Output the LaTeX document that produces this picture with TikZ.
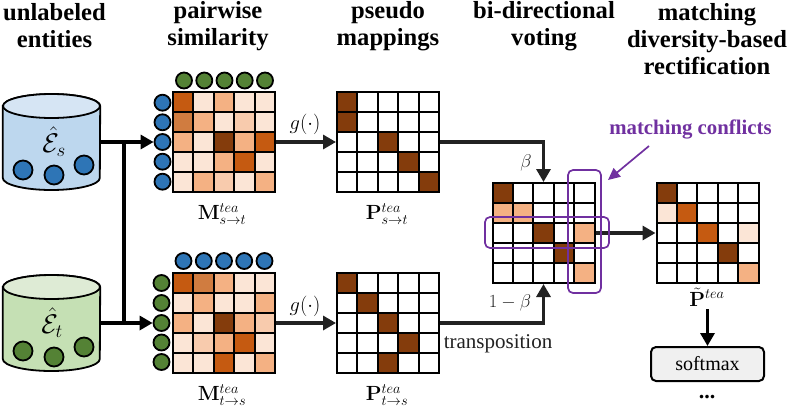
\documentclass[tikz,border=0pt]{standalone}
\usepackage{fix-cm}
\usepackage[no-math]{fontspec}
\setmainfont{Liberation Serif}
\usetikzlibrary{arrows.meta,calc}
\definecolor{cD}{HTML}{843C0C}
\definecolor{cO}{HTML}{C55A11}
\definecolor{cM}{HTML}{D07C40}
\definecolor{cL}{HTML}{F4B183}
\definecolor{cS}{HTML}{F8CBAD}
\definecolor{cF}{HTML}{FBE5D6}
\definecolor{cW}{HTML}{FFFFFF}
\definecolor{blueE}{HTML}{2E75B6}
\definecolor{greenE}{HTML}{548235}
\definecolor{blueB}{HTML}{BDD7EE}
\definecolor{blueT}{HTML}{D6E5F4}
\definecolor{greenB}{HTML}{C5E0B4}
\definecolor{greenT}{HTML}{DEEBD5}
\definecolor{purpleC}{HTML}{7030A0}
\definecolor{lineC}{HTML}{222222}
\tikzset{
  title/.style={font=\fontsize{24.6}{27}\selectfont\bfseries,align=center,inner sep=0pt,text=black},
  mathlabel/.style={font=\fontsize{20.5}{24}\selectfont,inner sep=0pt},
  smalllabel/.style={font=\fontsize{18.5}{22}\selectfont,inner sep=0pt,text=lineC},
  frame/.style={draw=black,line width=2pt,minimum width=102pt,minimum height=100pt,inner sep=0pt},
  ent/.style={circle,draw=black,line width=1.8pt,minimum size=#1,inner sep=0pt},
  ent/.default=16pt,
  flow/.style={line width=3.2pt,lineC,-{Triangle[length=13pt,width=14pt]}},
  feed/.style={line width=3.2pt,black,-{Triangle[length=13pt,width=14pt]}},
  feedline/.style={line width=3.2pt,black},
  conflict/.style={draw=purpleC,line width=1.7pt,rounded corners=5pt},
  cylbox/.style={minimum width=97pt,minimum height=96pt,inner sep=0pt},
}
% \grid{name}{cx}{cy}{row/col/colour,...}
\newcommand{\grid}[4]{%
  \foreach \r/\c/\k in {#4}{%
    \fill[\k] ({#2-51+(\c-1)*20.4},{#3-50+(\r-1)*20}) rectangle ++(20.4,20);
  }
  \node[frame] (#1) at (#2,#3) {};
  \foreach \i in {1,2,3,4}{%
    \draw[black,line width=2pt] ({#2-51+\i*20.4},{#3-50}) -- ++(0,100);
    \draw[black,line width=2pt] ({#2-51},{#3-50+\i*20}) -- ++(102,0);
  }
}
% \cyl{name}{cx}{cy}{body}{top}
\newcommand{\cyl}[5]{%
  \node[cylbox] (#1) at (#2,#3) {};
  \draw[line width=1.8pt,fill=#4] (#1.west |- 0,{#3-36}) -- (#1.west |- 0,{#3+36})
    arc[start angle=180,end angle=360,x radius=48.5pt,y radius=12pt]
    -- (#1.east |- 0,{#3-36})
    arc[start angle=0,end angle=180,x radius=48.5pt,y radius=12pt] -- cycle;
  \draw[line width=1.8pt,fill=#5] (#2,{#3-36}) ellipse[x radius=48.5pt,y radius=12pt];
}
\begin{document}
\begin{tikzpicture}[x=1pt,y=-1pt]
\useasboundingbox (0,0) rectangle (789,408);
% titles
\node[title] (t1) at (54.5,26) {unlabeled\\entities};
\node[title] (t2) at (218,26) {pairwise\\similarity};
\node[title] (t3) at (388,26) {pseudo\\mappings};
\node[title] (t4) at (544,26) {bi-directional\\voting};
\node[title] (t5) at (707,39) {matching\\diversity-based\\rectification};
% cylinders
\cyl{Cs}{51.5}{142}{blueB}{blueT}
\cyl{Ct}{51.5}{323}{greenB}{greenT}
\node[font=\fontsize{27}{30}\selectfont,inner sep=0pt] (Es) at (54,141.5) {$\hat{\mathcal{E}}_s$};
\node[font=\fontsize{27}{30}\selectfont,inner sep=0pt] (Et) at (52,322.5) {$\hat{\mathcal{E}}_t$};
\foreach \n/\x/\y in {a/23/170,b/54/175,c/84/165}{\node[ent=19pt,fill=blueE] (Cs\n) at (\x,\y) {};}
\foreach \n/\x/\y in {a/23/351,b/54/357,c/84/347}{\node[ent=19pt,fill=greenE] (Ct\n) at (\x,\y) {};}
% grids
\grid{Ms}{224}{142}{1/1/cO,1/2/cF,1/3/cL,1/4/cF,1/5/cF,2/1/cM,2/2/cL,2/3/cF,2/4/cS,2/5/cF,3/1/cL,3/2/cF,3/3/cD,3/4/cL,3/5/cO,4/1/cF,4/2/cF,4/3/cL,4/4/cO,4/5/cF,5/1/cF,5/2/cL,5/3/cS,5/4/cF,5/5/cL}
\grid{Mt}{224}{323}{1/1/cO,1/2/cM,1/3/cL,1/4/cF,1/5/cF,2/1/cF,2/2/cL,2/3/cF,2/4/cF,2/5/cL,3/1/cL,3/2/cF,3/3/cD,3/4/cL,3/5/cS,4/1/cF,4/2/cS,4/3/cL,4/4/cO,4/5/cF,5/1/cF,5/2/cF,5/3/cO,5/4/cF,5/5/cL}
\grid{Ps}{388}{142}{1/1/cD,2/1/cD,3/3/cD,4/4/cD,5/5/cD}
\grid{Pt}{388}{323}{1/1/cD,2/2/cD,3/3/cD,4/4/cD,5/3/cD}
\grid{V}{543.5}{233}{1/1/cD,2/1/cL,2/2/cL,3/3/cD,3/5/cL,4/4/cD,5/5/cL}
\grid{R}{707.5}{233}{1/1/cD,2/1/cF,2/2/cO,3/3/cO,3/5/cF,4/4/cD,5/5/cL}
% entity dots
\foreach \i/\y in {1/102.7,2/122.3,3/142,4/161.7,5/181.7}{\node[ent,fill=blueE] (sr\i) at (162.5,\y) {};}
\foreach \i/\x in {1/184,2/204.3,3/224.5,4/244.7,5/265}{\node[ent,fill=greenE] (sc\i) at (\x,80.5) {};}
\foreach \i/\y in {1/283,2/303,3/323,4/342.5,5/362}{\node[ent,fill=greenE] (tr\i) at (161.5,\y) {};}
\foreach \i/\x in {1/183.5,2/203.8,3/224,4/244.2,5/264.5}{\node[ent,fill=blueE] (tc\i) at (\x,261) {};}
% input connectors
\coordinate (js) at (124,142);
\coordinate (jt) at (124,323);
\draw[feedline] (Cs.east) -- (js);
\draw[feed] (js) -- (sr3.west);
\draw[feedline] (Ct.east) -- (jt);
\draw[feed] (jt) -- (tr3.west);
\draw[feedline] (js) -- (jt);
% flow connectors
\draw[flow] (Ms.east) -- (Ps.west);
\draw[flow] (Mt.east) -- (Pt.west);
\draw[flow] (Ps.east) -| (V.north);
\draw[flow] (Pt.east) -| (V.south);
\draw[flow] (V.east) -- (R.west);
\node[draw=black,line width=2pt,fill=black!6,rounded corners=5pt,minimum width=113pt,minimum height=34pt,inner sep=0pt,font=\fontsize{20}{22}\selectfont] (sm) at (707.5,364) {softmax};
\draw[feed] (R.south |- 0,309) -- (sm.north);
% labels
\node[mathlabel] (g1) at (305,124) {$g(\cdot)$};
\node[mathlabel] (g2) at (305,306) {$g(\cdot)$};
\node[mathlabel] (lMs) at (222,214) {$\mathbf{M}_{s\to t}^{tea}$};
\node[mathlabel] (lMt) at (222,395) {$\mathbf{M}_{t\to s}^{tea}$};
\node[mathlabel] (lPs) at (387,214) {$\mathbf{P}_{s\to t}^{tea}$};
\node[mathlabel] (lPt) at (387,395) {$\mathbf{P}_{t\to s}^{tea}$};
\node[mathlabel] (lR) at (707,297) {$\tilde{\mathbf{P}}^{tea}$};
\node[smalllabel] (lb) at (526,163) {$\beta$};
\node[smalllabel] (lb2) at (510,303) {$1-\beta$};
\node[inner sep=0pt,font=\fontsize{21}{22}\selectfont,text=lineC] (tr) at (498,344) {transposition};
\node[inner sep=0pt,font=\fontsize{22}{22}\selectfont\bfseries] (dots) at (707,397) {...};
% conflicts
\node[conflict,minimum width=33pt,minimum height=123pt,inner sep=0pt] (c1) at (584.5,231.5) {};
\node[conflict,minimum width=124pt,minimum height=31pt,inner sep=0pt] (c2) at (547,232.5) {};
\node[inner sep=0pt,text=purpleC,font=\fontsize{20.8}{22}\selectfont\bfseries] (cl) at (690.5,129) {matching conflicts};
\coordinate (cs) at (649,146);
\coordinate (ce) at (608,180);
\draw[line width=1.7pt,purpleC,-{Triangle[length=12pt,width=11pt]}] (cs) -- (ce);
\end{tikzpicture}
\end{document}
